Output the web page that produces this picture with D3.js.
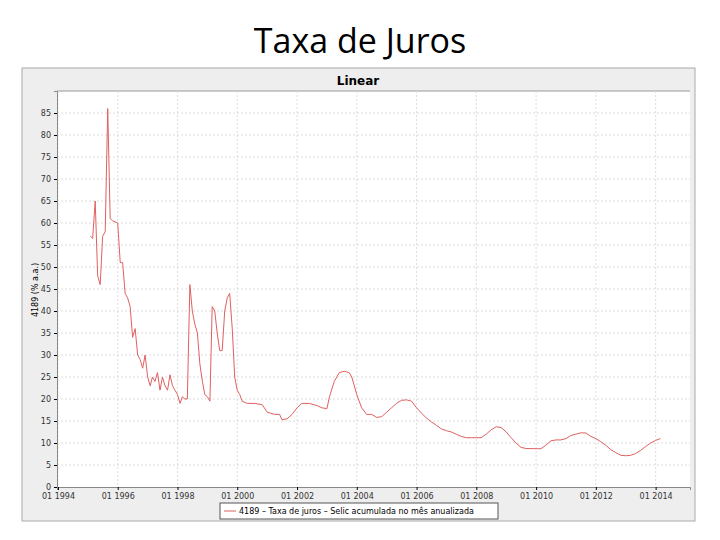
<!DOCTYPE html>
<html><head><meta charset="utf-8">
<script src="https://cdn.jsdelivr.net/npm/d3@7"></script>
<style>body{margin:0;background:#fff}</style>
</head><body>
<svg id="chart" width="720" height="540"></svg>
<script>
// Série mensal (aproximada a partir da imagem)
const months = ["1995-02","1995-03","1995-04","1995-05","1995-06","1995-07","1995-08","1995-09","1995-10","1995-11","1996-01","1996-02","1996-03","1996-04","1996-05","1996-06","1996-07","1996-08","1996-09","1996-10","1996-11","1996-12","1997-01","1997-02","1997-03","1997-04","1997-05","1997-06","1997-07","1997-08","1997-09","1997-10","1997-11","1997-12","1998-01","1998-02","1998-03","1998-04","1998-05","1998-06","1998-07","1998-08","1998-09","1998-10","1998-11","1998-12","1999-01","1999-02","1999-03","1999-04","1999-05","1999-06","1999-07","1999-08","1999-09","1999-10","1999-11","1999-12","2000-01","2000-02","2000-03","2000-05","2000-08","2000-11","2001-01","2001-04","2001-06","2001-07","2001-09","2001-11","2002-01","2002-03","2002-06","2002-09","2002-11","2003-01","2003-02","2003-04","2003-06","2003-08","2003-10","2003-11","2004-01","2004-03","2004-05","2004-07","2004-09","2004-11","2005-01","2005-03","2005-05","2005-07","2005-09","2005-11","2006-01","2006-03","2006-05","2006-07","2006-09","2006-11","2007-01","2007-03","2007-05","2007-07","2007-09","2007-11","2008-01","2008-03","2008-05","2008-07","2008-09","2008-11","2009-01","2009-03","2009-05","2009-07","2009-09","2010-01","2010-03","2010-05","2010-07","2010-09","2010-11","2011-01","2011-03","2011-05","2011-07","2011-09","2011-11","2012-01","2012-03","2012-05","2012-07","2012-09","2012-11","2013-01","2013-03","2013-05","2013-07","2013-09","2013-11","2014-01","2014-03"];
const selic = [57,56.5,65,48,46,57,58,86,61,60.5,60,51,51,44,43,41,34,36,30,29,27,30,25,23,25,24,26,22,25,23,22,25.5,23,22,21,19,20.5,20,20,46,40,37,35,28,24,21,20.5,19.5,41,40,35,31,31,40,43,44,36,25,22,21,19.5,19,19,18.7,17,16.5,16.5,15.3,15.5,16.5,18,19,19,18.5,18,17.8,20.5,24,26,26.3,26,25,21,18,16.5,16.5,15.8,16,17,18,19,19.7,19.8,19.5,18,16.8,15.7,14.8,14,13.2,12.8,12.5,12,11.5,11.2,11.2,11.2,11.2,12,13,13.7,13.5,12.5,11.2,10,9,8.75,8.7,8.7,9.5,10.5,10.7,10.7,11,11.7,12,12.3,12.3,11.5,11,10.3,9.5,8.5,7.8,7.2,7.1,7.2,7.6,8.3,9.2,10,10.6,11];
const xTickYears = [1994,1996,1998,2000,2002,2004,2006,2008,2010,2012,2014];
const yTicks = d3.range(0, 90, 5);

const parse = d3.timeParse("%Y-%m");
const data = months.map((m, i) => ({ date: parse(m), value: selic[i] }));

const svg = d3.select("#chart");
svg.append("text").attr("x", 360).attr("y", 53).attr("text-anchor", "middle")
    .style("font-family", "Open Sans, sans-serif").style("font-size", "34px").text("Taxa de Juros");

// painel cinza
svg.append("rect").attr("x", 22).attr("y", 68).attr("width", 673).attr("height", 453)
    .attr("fill", "#eeeeee").attr("stroke", "#aaa");
svg.append("text").attr("x", 358).attr("y", 85).attr("text-anchor", "middle")
    .style("font-family", "DejaVu Sans, sans-serif").style("font-size", "12px").style("font-weight", "bold").text("Linear");

const pLeft = 57, pRight = 690, pTop = 91, pBottom = 487;
const x = d3.scaleTime().domain([new Date(1993, 11, 20), new Date(2015, 1, 25)]).range([pLeft, pRight]);
const y = d3.scaleLinear().domain([0, 90]).range([pBottom, pTop]);

svg.append("rect").attr("x", pLeft).attr("y", pTop).attr("width", pRight - pLeft).attr("height", pBottom - pTop).attr("fill", "#fff");
svg.append("line").attr("x1", pLeft).attr("x2", pRight).attr("y1", pTop).attr("y2", pTop).attr("stroke", "#999");

// grades
svg.append("g").selectAll("line").data(yTicks.slice(1)).enter().append("line")
    .attr("x1", pLeft).attr("x2", pRight).attr("y1", d => y(d)).attr("y2", d => y(d))
    .attr("stroke", "#ddd").attr("stroke-dasharray", "2,2");
svg.append("g").selectAll("line").data(xTickYears).enter().append("line")
    .attr("x1", d => x(new Date(d, 0, 1))).attr("x2", d => x(new Date(d, 0, 1)))
    .attr("y1", pTop).attr("y2", pBottom).attr("stroke", "#ddd").attr("stroke-dasharray", "2,2");

const font = g => g.selectAll("text").style("font-family", "DejaVu Sans, sans-serif").style("font-size", "8px").attr("fill", "#333");
svg.append("g").attr("transform", `translate(0,${pBottom})`)
    .call(d3.axisBottom(x).tickValues(xTickYears.map(d => new Date(d, 0, 1))).tickFormat(d3.timeFormat("01 %Y")).tickSize(3))
    .call(font).call(g => g.select(".domain").attr("stroke", "#888"));
svg.append("g").attr("transform", `translate(${pLeft},0)`)
    .call(d3.axisLeft(y).tickValues(yTicks).tickSize(3))
    .call(font).call(g => g.select(".domain").attr("stroke", "#888"));

svg.append("text").attr("transform", "translate(38,290) rotate(-90)").attr("text-anchor", "middle")
    .style("font-family", "DejaVu Sans, sans-serif").style("font-size", "8px").text("4189 (% a.a.)");

const line = d3.line().x(d => x(d.date)).y(d => y(d.value));
svg.append("path").datum(data).attr("d", line).attr("fill", "none").attr("stroke", "#e06060").attr("stroke-width", 1);

// legenda
svg.append("rect").attr("x", 220).attr("y", 503).attr("width", 278).attr("height", 16).attr("fill", "#fff").attr("stroke", "#555");
svg.append("line").attr("x1", 224).attr("x2", 236).attr("y1", 511).attr("y2", 511).attr("stroke", "#e06060");
svg.append("text").attr("x", 239).attr("y", 514).style("font-family", "DejaVu Sans, sans-serif").style("font-size", "8px")
    .text("4189 – Taxa de juros – Selic acumulada no mês anualizada");
</script>
</body></html>
